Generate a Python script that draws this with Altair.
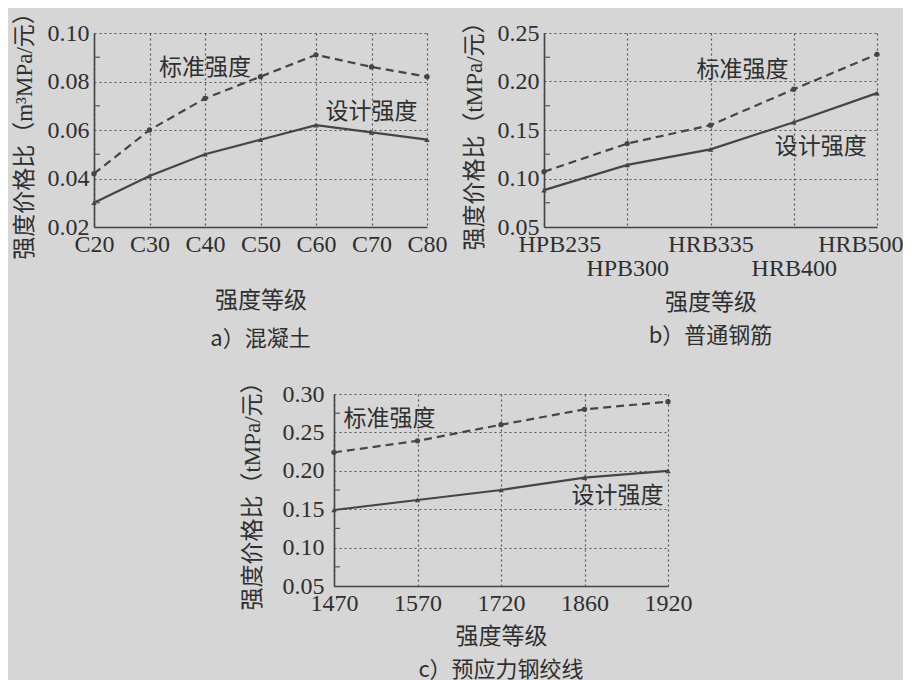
import altair as alt
import pandas as pd

# ---- data ----
a_grades = ["C20", "C30", "C40", "C50", "C60", "C70", "C80"]
a_std = [0.042, 0.060, 0.073, 0.082, 0.091, 0.086, 0.082]
a_des = [0.030, 0.041, 0.050, 0.056, 0.062, 0.059, 0.056]
a_yticks = [0.02, 0.04, 0.06, 0.08, 0.10]
a_minor = [0.03, 0.05, 0.07, 0.09]

b_grades = ["HPB235", "HPB300", "HRB335", "HRB400", "HRB500"]
b_std = [0.107, 0.136, 0.155, 0.192, 0.228]
b_des = [0.088, 0.114, 0.130, 0.158, 0.188]
b_yticks = [0.05, 0.10, 0.15, 0.20, 0.25]
b_minor = [0.075, 0.125, 0.175, 0.225]

c_grades = ["1470", "1570", "1720", "1860", "1920"]
c_std = [0.224, 0.239, 0.260, 0.280, 0.290]
c_des = [0.149, 0.162, 0.175, 0.191, 0.200]
c_yticks = [0.05, 0.10, 0.15, 0.20, 0.25, 0.30]
c_minor = [0.075, 0.125, 0.175, 0.225, 0.275]

series_names = ["标准强度", "设计强度"]

LATIN = "Liberation Serif, Noto Sans CJK SC"
CJK = "Noto Sans CJK SC"
INK = "#2f2f2f"
LINE = "#454545"
BG = "#d6d6d6"


def panel(grades, std, des, yticks, minor, ytitle, caption,
          std_pos, des_pos, w, h, lab_pad, title_pad, xtitle_y, cap_offset,
          label_expr=None, flush=None):
    n = len(grades)
    df = pd.DataFrame({
        "grade": grades * 2,
        "value": std + des,
        "series": [series_names[0]] * n + [series_names[1]] * n,
    })
    axis_x = dict(
        title="强度等级", labelFont=LATIN, labelFontSize=24, labelColor=INK,
        labelPadding=5, ticks=False, domainColor="#444", domainWidth=1.6,
        grid=True, gridColor="#555", gridDash=[2, 3], gridWidth=1.2,
        labelAngle=0, labelOverlap=False,
        titleFont=CJK, titleFontSize=23, titleColor=INK, titleFontWeight="normal",
        titleY=xtitle_y, titleBaseline="middle", labelLineHeight=24,
    )
    if label_expr:
        axis_x["labelExpr"] = label_expr
    if flush is not None:
        axis_x["labelFlush"] = True
        axis_x["labelFlushOffset"] = flush
    else:
        axis_x["labelFlush"] = False
    x = alt.X("grade:N", sort=grades,
              scale=alt.Scale(type="point", padding=0),
              axis=alt.Axis(**axis_x))
    y = alt.Y("value:Q",
              scale=alt.Scale(domain=[yticks[0], yticks[-1]], nice=False, zero=False),
              axis=alt.Axis(
                  title=ytitle, values=yticks, format=".2f",
                  labelFont=LATIN, labelFontSize=24, labelColor=INK,
                  labelPadding=lab_pad, ticks=False, domainColor="#444",
                  domainWidth=1.6, grid=True, gridColor="#555", gridDash=[2, 3],
                  gridWidth=1.2, labelFlush=False, labelOverlap=False,
                  titleFont=LATIN, titleFontSize=23, titleColor=INK,
                  titleFontWeight="normal", titlePadding=title_pad,
              ))
    base = alt.Chart(df)
    std_line = base.transform_filter(alt.datum.series == series_names[0]).mark_line(
        color=LINE, strokeWidth=2.2, strokeDash=[8, 5]).encode(x=x, y=y)
    std_pts = base.transform_filter(alt.datum.series == series_names[0]).mark_point(
        shape="circle", filled=True, size=28, color=LINE, opacity=1).encode(x=x, y=y)
    des_line = base.transform_filter(alt.datum.series == series_names[1]).mark_line(
        color=LINE, strokeWidth=2.2).encode(x=x, y=y)
    des_pts = base.transform_filter(alt.datum.series == series_names[1]).mark_point(
        shape="triangle-up", filled=True, size=30, color=LINE, opacity=1).encode(x=x, y=y)

    minor_df = pd.DataFrame({"value": minor})
    minor_ticks = alt.Chart(minor_df).mark_rule(color="#555", strokeWidth=1.2).encode(
        y=y, x=alt.value(0), x2=alt.value(6))

    layers = [std_line, des_line, std_pts, des_pts, minor_ticks]
    for (g, v, dx), name in zip([std_pos, des_pos], series_names):
        tdf = pd.DataFrame({"grade": [g], "value": [v], "label": [name]})
        layers.append(alt.Chart(tdf).mark_text(
            font=CJK, fontSize=23, color=INK, dx=dx, align="center", baseline="middle"
        ).encode(x=x, y=y, text="label:N"))

    return alt.layer(*layers).properties(
        width=w, height=h,
        title=alt.TitleParams(caption, orient="bottom", anchor="middle", font=CJK,
                              fontSize=22, fontWeight="normal", color=INK,
                              offset=cap_offset),
    )


pa = panel(a_grades, a_std, a_des, a_yticks, a_minor, "强度价格比（m³MPa/元）", "a）混凝土",
           ("C40", 0.0856, 0), ("C70", 0.0674, 0), 333, 194, 5, 11, 73, 17)
pb = panel(b_grades, b_std, b_des, b_yticks, b_minor, "强度价格比（tMPa/元）", "b）普通钢筋",
           ("HRB335", 0.212, 32), ("HRB400", 0.1325, 27), 333, 194, 5, 11, 75, 12,
           label_expr="(datum.value == 'HPB300' || datum.value == 'HRB400') ? ['', datum.value] : datum.value",
           flush=26)
pc = panel(c_grades, c_std, c_des, c_yticks, c_minor, "强度价格比（tMPa/元）", "c）预应力钢绞线",
           ("1570", 0.2674, -28), ("1860", 0.167, 33), 334, 192, 10, 18, 50, 12)

spacer = alt.Chart(pd.DataFrame({"v": [0]})).mark_point(opacity=0).encode(
    x=alt.X("v:Q", axis=None), y=alt.Y("v:Q", axis=None)).properties(width=230, height=10)

top = alt.hconcat(pa, pb, spacing=117, bounds="flush")
bottom = alt.hconcat(spacer, pc, spacing=10, bounds="flush")
chart = alt.vconcat(top, bottom, spacing=19).properties(
    padding={"left": 4, "top": -8, "right": 0, "bottom": 0},
    background=BG,
).configure_view(stroke=None).configure_axis(labelOverlap=False)

chart.save("out.html", embed_options={"renderer": "svg", "actions": False})
